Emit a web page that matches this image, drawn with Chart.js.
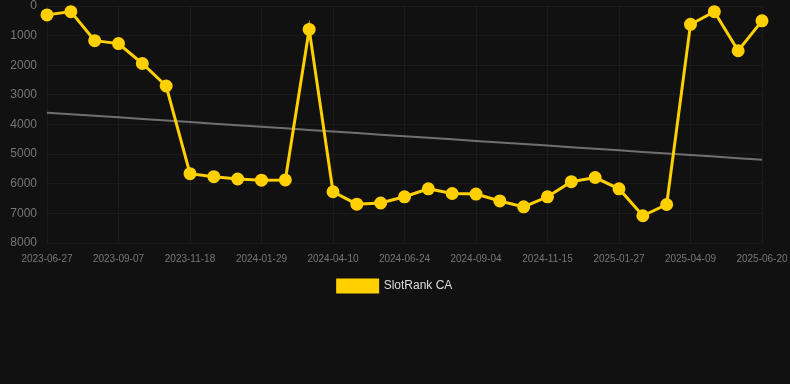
<!DOCTYPE html>
<html>
<head>
<meta charset="utf-8">
<script src="https://cdn.jsdelivr.net/npm/chart.js@4"></script>
<style>
html,body{margin:0;padding:0;background:#111111;}
#wrap{position:relative;width:790px;height:302px;}
</style>
</head>
<body>
<div id="wrap"><canvas id="c"></canvas></div>
<script>
const dates = ["2023-06-27","2023-07-21","2023-08-14","2023-09-07","2023-10-01","2023-10-25","2023-11-18","2023-12-12","2024-01-05","2024-01-29","2024-02-22","2024-03-17","2024-04-10","2024-05-04","2024-05-28","2024-06-24","2024-07-18","2024-08-11","2024-09-04","2024-09-28","2024-10-22","2024-11-15","2024-12-09","2025-01-02","2025-01-27","2025-02-20","2025-03-16","2025-04-09","2025-05-03","2025-05-27","2025-06-20"];
const rankValues = [300,190,1170,1270,1940,2700,5660,5760,5840,5880,5870,790,6270,6690,6650,6440,6170,6330,6350,6580,6780,6440,5930,5790,6170,7080,6700,620,190,1510,500];
const trendValues = [3600,3653,3706,3759,3812,3865,3918,3971,4024,4077,4130,4183,4236,4289,4342,4395,4448,4501,4554,4607,4660,4713,4766,4819,4872,4925,4978,5031,5084,5137,5190];
const yTicks = [0,1000,2000,3000,4000,5000,6000,7000,8000];

new Chart(document.getElementById('c'), {
  type: 'line',
  data: {
    labels: dates,
    datasets: [
      {
        label: 'SlotRank CA',
        data: rankValues,
        borderColor: '#FFD000',
        backgroundColor: '#FFD000',
        borderWidth: 3,
        pointRadius: 5,
        pointHoverRadius: 5,
        pointBackgroundColor: '#FFD000',
        pointBorderColor: '#FFD000',
        tension: 0,
        clip: false,
        order: 1
      },
      {
        label: 'trend',
        data: trendValues,
        borderColor: '#707070',
        borderWidth: 2,
        pointRadius: 0,
        tension: 0,
        order: 2
      }
    ]
  },
  options: {
    responsive: true,
    maintainAspectRatio: false,
    animation: false,
    layout: {autoPadding: false},
    plugins: {
      legend: {
        position: 'bottom',
        labels: {
          color: '#dddddd',
          boxWidth: 40,
          boxHeight: 12,
          font: {family: 'Liberation Sans, Arial, sans-serif', size: 12},
          filter: (item) => item.text !== 'trend'
        }
      },
      tooltip: {enabled: false}
    },
    scales: {
      x: {
        grid: {
          color: (ctx) => (ctx.index % 3 === 0 ? 'rgba(255,255,255,0.045)' : 'rgba(0,0,0,0)'),
          drawTicks: false
        },
        border: {display: false},
        afterFit: (s) => { s.height = 27; s.paddingRight = 28; s.paddingLeft = 0; },
        ticks: {
          color: '#777777',
          font: {family: 'Liberation Sans, Arial, sans-serif', size: 10},
          maxRotation: 0,
          autoSkip: false,
          padding: 10,
          callback: function(v, i) { return i % 3 === 0 ? dates[i] : ''; }
        }
      },
      y: {
        reverse: true,
        min: 0,
        max: 8000,
        afterBuildTicks: (axis) => { axis.ticks = yTicks.map(v => ({value: v})); },
        afterFit: (s) => { s.width = 47; s.paddingTop = 6; s.paddingBottom = 0; },
        grid: {color: 'rgba(255,255,255,0.045)', drawTicks: false},
        border: {display: false},
        ticks: {
          color: '#777777',
          font: {family: 'Liberation Sans, Arial, sans-serif', size: 12},
          padding: 10,
          callback: (v) => String(v)
        }
      }
    }
  }
});
</script>
</body>
</html>
